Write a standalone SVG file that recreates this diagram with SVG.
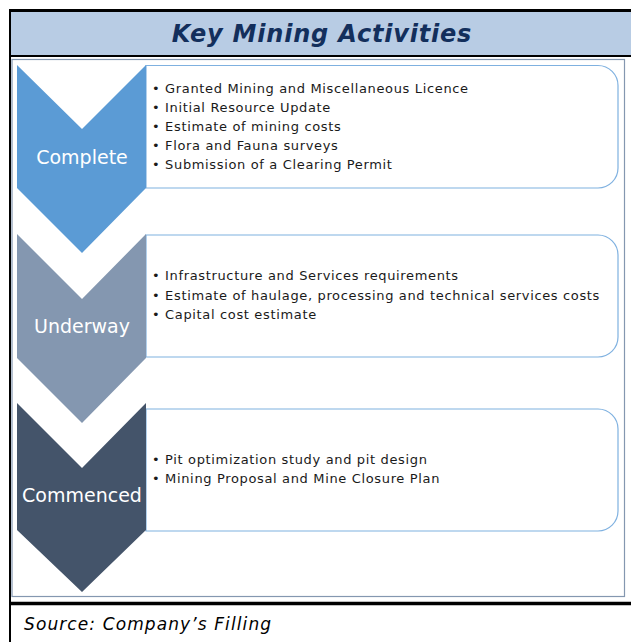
<svg xmlns="http://www.w3.org/2000/svg" width="631" height="642" viewBox="0 0 631 642">
<style>
.item{font-family:"DejaVu Sans",Verdana,sans-serif;font-size:13px;letter-spacing:0.65px;fill:#1a1a1a}
.lbl{font-family:"DejaVu Sans",Verdana,sans-serif;font-size:19px;fill:#ffffff;text-anchor:middle}
.box{fill:#ffffff;stroke:#7fb1e0;stroke-width:1.2}
</style>
<rect x="0" y="0" width="631" height="642" fill="#ffffff"/>
<g id="title">
<rect x="10" y="10" width="621" height="46" fill="#b8cce4"/>
<line x1="9" y1="10.5" x2="631" y2="10.5" stroke="#000" stroke-width="3"/>
<line x1="10" y1="56" x2="631" y2="56" stroke="#000" stroke-width="2"/>
<text x="322" y="42" text-anchor="middle" font-family="'DejaVu Sans',Verdana,sans-serif" font-size="24" font-weight="bold" font-style="italic" letter-spacing="0.8" fill="#132f5c">Key Mining Activities</text>
</g>
<line x1="10" y1="9" x2="10" y2="642" stroke="#000" stroke-width="2"/>
<rect x="12" y="59.5" width="612.5" height="537" fill="none" stroke="#8497b0" stroke-width="1.2"/>
<line x1="10" y1="603.5" x2="631" y2="603.5" stroke="#000" stroke-width="3.5"/>
<g id="complete">
<path class="box" d="M146 65.5 H598 A20 20 0 0 1 618 85.5 V168 A20 20 0 0 1 598 188 H146 Z"/>
<polygon points="17,65 82,129 146,65 146,188 82,253 17,188" fill="#5b9bd5"/>
<text class="lbl" x="82" y="164">Complete</text>
<text class="item" x="152" y="93">• Granted Mining and Miscellaneous Licence</text>
<text class="item" x="152" y="112">• Initial Resource Update</text>
<text class="item" x="152" y="131">• Estimate of mining costs</text>
<text class="item" x="152" y="150">• Flora and Fauna surveys</text>
<text class="item" x="152" y="169">• Submission of a Clearing Permit</text>
</g>
<g id="underway">
<path class="box" d="M146 235 H598 A20 20 0 0 1 618 255 V337 A20 20 0 0 1 598 357 H146 Z"/>
<polygon points="17,234 82,299 146,234 146,358 82,423 17,358" fill="#8497b0"/>
<text class="lbl" x="82" y="333">Underway</text>
<text class="item" x="152" y="280">• Infrastructure and Services requirements</text>
<text class="item" x="152" y="300">• Estimate of haulage, processing and technical services costs</text>
<text class="item" x="152" y="319">• Capital cost estimate</text>
</g>
<g id="commenced">
<path class="box" d="M146 409 H598 A20 20 0 0 1 618 429 V511 A20 20 0 0 1 598 531 H146 Z"/>
<polygon points="17,403 82,468 146,403 146,530 82,592 17,530" fill="#44546a"/>
<text class="lbl" x="82" y="502">Commenced</text>
<text class="item" x="152" y="464">• Pit optimization study and pit design</text>
<text class="item" x="152" y="483">• Mining Proposal and Mine Closure Plan</text>
</g>
<g id="connectors"></g>
<text x="24" y="630" font-family="'DejaVu Sans',Verdana,sans-serif" font-size="17" font-style="italic" letter-spacing="1.1" fill="#000">Source: Company’s Filling</text>
</svg>
